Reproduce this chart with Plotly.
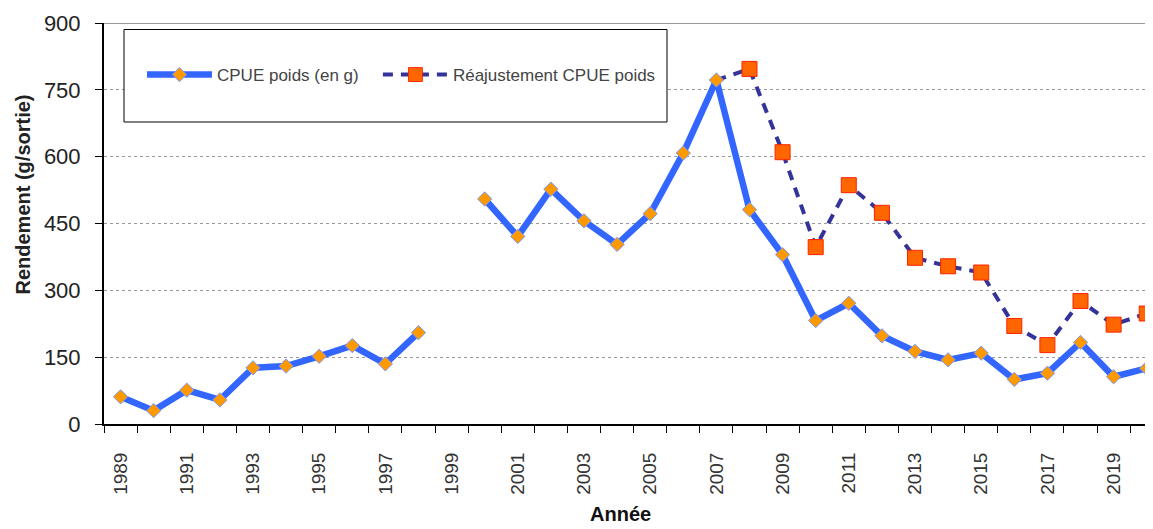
import plotly.graph_objects as go

years = list(range(1989, 2021))
cpue_poids = [61, 30, 76, 54, 126, 130, 152, 176, 135, 205, None,
              505, 421, 527, 456, 403, 472, 608, 772, 481, 380,
              232, 271, 198, 163, 144, 159, 100, 114, 183, 106, 125]
reaj_years = list(range(2007, 2021))
reaj_cpue = [772, 797, 610, 397, 536, 474, 373, 354, 340, 220, 177, 276, 223, 248]
y_ticks = [0, 150, 300, 450, 600, 750, 900]
x_tick_years = list(range(1989, 2020, 2))

FONT = "Liberation Sans, Arial, sans-serif"
OFF = 8  # page body margin
W, H = 1153 - OFF, 529 - OFF
L, T, B, R = 104 - OFF, 23 - OFF, 105, 0
PW, PH = W - L - R, H - T - B

def px_to_paper_x(px):
    return (px - OFF - L) / PW

def px_to_paper_y(py):
    return (H - B - (py - OFF)) / PH

NB = "\u00a0"

fig = go.Figure()

fig.add_trace(go.Scatter(
    x=reaj_years, y=reaj_cpue, mode="lines+markers",
    name="Réajustement CPUE poids",
    line=dict(color="#333399", width=4, dash="10px,8px"),
    marker=dict(symbol="square", size=[0] + [15] * (len(reaj_years) - 1),
                color="#FF6600", opacity=1,
                line=dict(color="#FF2200", width=[0] + [1] * (len(reaj_years) - 1))),
))

fig.add_trace(go.Scatter(
    x=years, y=cpue_poids, mode="lines+markers",
    name="CPUE poids (en g)" + NB * 3,
    connectgaps=False,
    line=dict(color="#3366FF", width=6.5),
    marker=dict(symbol="diamond", size=11, color="#FF9900", opacity=1,
                line=dict(color="#7799FF", width=1)),
))

# legend frame
fig.add_shape(type="rect", xref="paper", yref="paper",
              x0=px_to_paper_x(124), x1=px_to_paper_x(667),
              y0=px_to_paper_y(122), y1=px_to_paper_y(29.5),
              line=dict(color="black", width=1), fillcolor="white", layer="above")
# top line at 900
fig.add_shape(type="line", xref="paper", yref="y", x0=0, x1=1, y0=900, y1=900,
              line=dict(color="#999999", width=2), layer="below")

fig.update_layout(
    width=W, height=H,
    margin=dict(l=L, r=R, t=T, b=B, autoexpand=False),
    paper_bgcolor="white", plot_bgcolor="white",
    font=dict(family=FONT, color="#222"),
    showlegend=True,
    legend=dict(orientation="h", xref="paper", yref="paper",
                x=px_to_paper_x(142), xanchor="left",
                y=px_to_paper_y(75), yanchor="middle",
                traceorder="reversed",
                font=dict(size=17, color="#444", family=FONT),
                bgcolor="rgba(0,0,0,0)", borderwidth=0, itemwidth=65),
    xaxis=dict(range=[1988.5, 2020.19], tickmode="array", tickvals=x_tick_years,
               ticktext=[str(y) for y in x_tick_years], tickangle=-90,
               ticks="", ticklabelstandoff=19, automargin=False,
               tickfont=dict(size=19, color="#333", family=FONT),
               showgrid=False, zeroline=False,
               showline=True, linecolor="black", linewidth=2,
               minor=dict(tickmode="linear", tick0=1988.5, dtick=1, ticks="outside",
                          ticklen=7, tickcolor="black", tickwidth=1, showgrid=False)),
    yaxis=dict(range=[0, 900], tickmode="array", tickvals=y_ticks,
               ticks="outside", ticklen=7, tickcolor="black", tickwidth=1,
               ticklabelstandoff=10, automargin=False,
               tickfont=dict(size=22, color="#222", family=FONT),
               showgrid=True, gridcolor="#999999", gridwidth=1, griddash="dot",
               zeroline=False, showline=True, linecolor="black", linewidth=2),
    annotations=[
        dict(text="<b>Rendement (g/sortie)</b>", xref="paper", yref="paper",
             x=px_to_paper_x(22.5), y=px_to_paper_y(195), textangle=-90,
             showarrow=False, font=dict(size=20, color="#222", family=FONT),
             xanchor="center", yanchor="middle"),
        dict(text="<b>Année</b>", xref="paper", yref="paper",
             x=px_to_paper_x(620), y=px_to_paper_y(527), showarrow=False,
             font=dict(size=20, color="#111", family=FONT),
             xanchor="center", yanchor="bottom"),
    ],
)

fig.write_html("out.html")
